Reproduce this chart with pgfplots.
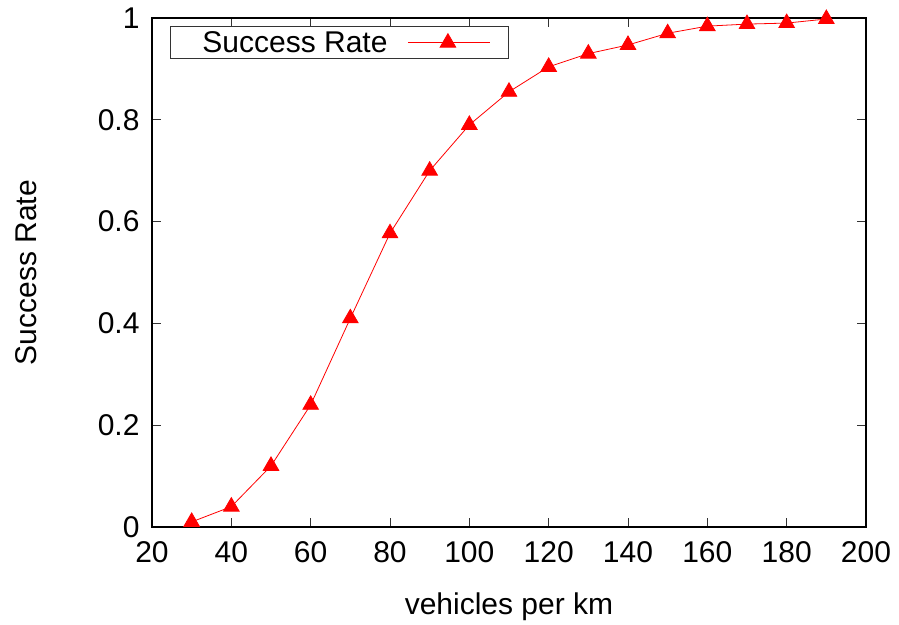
\documentclass[border=0pt]{standalone}
\usepackage{pgfplots}
\pgfplotsset{compat=1.18}
\usepackage{fontspec}
\setmainfont{Liberation Sans}
\begin{document}
\begin{tikzpicture}
\begin{axis}[
  scale only axis,
  width=714pt, height=509pt,
  xmin=20, xmax=200, ymin=0, ymax=1,
  xtick={20,40,...,200}, ytick={0,0.2,...,1},
  yticklabel style={/pgf/number format/fixed, xshift=-9pt},
  xticklabel style={yshift=-11pt},
  /pgf/number format/assume math mode=true,
  tick align=inside, major tick length=9pt,
  tick style={black!80, line width=0.9pt},
  axis line style={black, line width=1.6pt},
  font=\fontsize{30}{34}\selectfont,
  xlabel={vehicles per km}, ylabel={Success Rate},
  every axis x label/.style={at={(rel axis cs:0.5,0)}, anchor=base, yshift=-88pt},
  every axis y label/.style={at={(rel axis cs:0,0.5)}, xshift=-115pt, rotate=90, anchor=base},
  legend plot pos=right,
  legend style={at={(rel axis cs:0,1)}, anchor=north west, xshift=18pt, yshift=-8pt,
    draw=black!80, line width=0.9pt, inner sep=0pt,
    nodes={inner xsep=0pt, inner ysep=5pt},
    font=\fontsize{30}{34}\selectfont},
  legend cell align=left,
  legend image code/.code={
    \path (0pt,0pt);
    \draw[#1, mark=none] (20pt,0pt) -- (102pt,0pt);
    \draw[#1, only marks] plot coordinates {(60pt,0pt)};
    \path (120pt,0pt);
  },
]
\addplot[red, line width=0.8pt, mark=triangle*, mark size=9pt, mark options={solid, fill=red}]
coordinates {
(30,0.01) (40,0.04) (50,0.12) (60,0.24) (70,0.41) (80,0.577) (90,0.70)
(100,0.79) (110,0.855) (120,0.904) (130,0.93) (140,0.947) (150,0.97)
(160,0.984) (170,0.988) (180,0.99) (190,0.998)
};
\addlegendentry{\hspace{32pt}Success Rate}
\end{axis}
\path (current axis.south west) ++(-152pt,-96pt);
\path (current axis.north east) ++(33pt,18pt);
\end{tikzpicture}
\end{document}
